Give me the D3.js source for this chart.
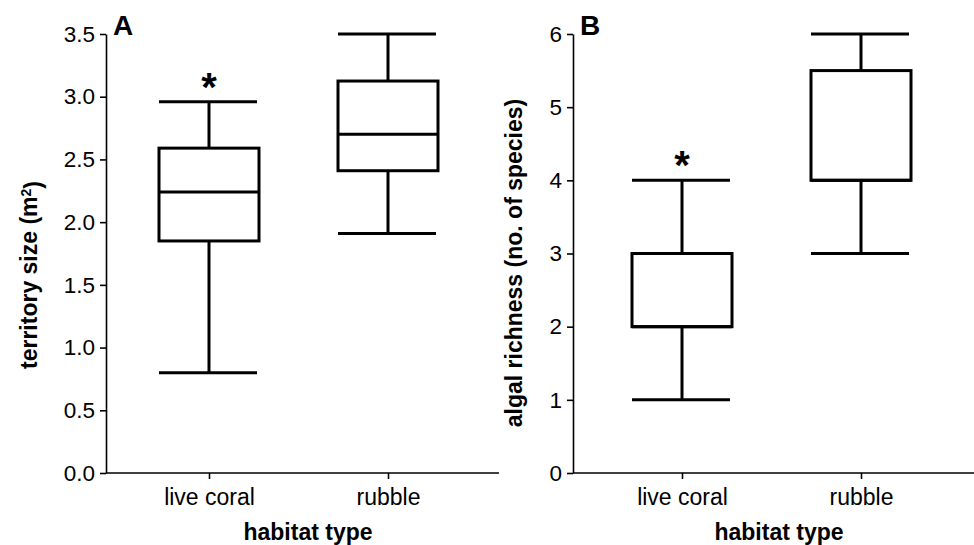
<!DOCTYPE html>
<meta charset="utf-8">
<head>
  <title>Territory size and algal richness</title>
  <style>
  body { margin: 0; background: #fff; }
  svg { font-family: "Liberation Sans", Arial, sans-serif; }
  .tick text { fill: #000; }
  .axis path, .axis line { stroke: #000; stroke-width: 1.6px; }
  .box { fill: #fff; stroke: #000; stroke-width: 3px; }
  .whisker { stroke: #000; stroke-width: 3px; }
  .title { font-weight: bold; font-size: 23px; }
  </style>
</head>
<html>
  <body>
    <svg width="974" height="545"></svg>
  </body>
</html>
<script src="https://d3js.org/d3.v7.min.js"></script>
<script>
// categories
var habitats = ["live coral", "rubble"];

// panel A: territory size (m2) -> [min, q1, median, q3, max]
var territoryStats = [
  [0.80, 1.85, 2.24, 2.59, 2.96],
  [1.91, 2.41, 2.70, 3.125, 3.50]
];
var territoryTicks = [0, 0.5, 1.0, 1.5, 2.0, 2.5, 3.0, 3.5];

// panel B: algal richness (no. of species)
var algalStats = [
  [1, 2, 2, 3, 4],
  [3, 4, 4, 5.5, 6]
];
var algalTicks = [0, 1, 2, 3, 4, 5, 6];

// which groups are marked significant
var signif = ["live coral"];

var svg = d3.select("svg");

function drawPanel(p) {
  var g = svg.append("g").attr("transform", "translate(" + p.left + "," + p.top + ")");

  var y = d3.scaleLinear()
      .domain([0, d3.max(p.ticks)])
      .range([p.height, 0]);

  var x = d3.scalePoint()
      .domain(habitats)
      .range(p.xRange);

  // y axis
  var ya = g.append("g")
      .attr("class", "axis")
      .call(d3.axisLeft(y).tickValues(p.ticks).tickFormat(p.fmt).tickSize(6).tickPadding(5).tickSizeOuter(0));
  ya.selectAll("text").style("font-size", "22.5px");

  // x axis
  var xa = g.append("g")
      .attr("class", "axis")
      .attr("transform", "translate(0," + p.height + ")")
      .call(d3.axisBottom(x).tickSize(6).tickPadding(10).tickSizeOuter(0));
  xa.select(".domain").attr("d", "M0,0H" + p.width);
  xa.selectAll("text").style("font-size", "23px");

  var hw = 50;

  var grp = g.selectAll(".grp")
      .data(p.stats)
    .enter().append("g")
      .attr("class", "grp")
      .attr("transform", function(d, i) { return "translate(" + x(habitats[i]) + ",0)"; });

  // whisker stems
  grp.append("line")
      .attr("class", "whisker")
      .attr("y1", function(d) { return y(d[0]); })
      .attr("y2", function(d) { return y(d[1]); });
  grp.append("line")
      .attr("class", "whisker")
      .attr("y1", function(d) { return y(d[3]); })
      .attr("y2", function(d) { return y(d[4]); });

  // caps
  grp.append("line")
      .attr("class", "whisker")
      .attr("x1", -hw).attr("x2", hw - 2)
      .attr("y1", function(d) { return y(d[0]); })
      .attr("y2", function(d) { return y(d[0]); });
  grp.append("line")
      .attr("class", "whisker")
      .attr("x1", -hw).attr("x2", hw - 2)
      .attr("y1", function(d) { return y(d[4]); })
      .attr("y2", function(d) { return y(d[4]); });

  // box
  grp.append("rect")
      .attr("class", "box")
      .attr("x", -hw)
      .attr("width", 2 * hw)
      .attr("y", function(d) { return y(d[3]); })
      .attr("height", function(d) { return y(d[1]) - y(d[3]); });

  // median
  grp.append("line")
      .attr("class", "whisker")
      .attr("x1", -hw).attr("x2", hw)
      .attr("y1", function(d) { return y(d[2]); })
      .attr("y2", function(d) { return y(d[2]); });

  // asterisks
  grp.filter(function(d, i) { return signif.indexOf(habitats[i]) >= 0; })
    .append("text")
      .attr("text-anchor", "middle")
      .attr("y", function(d) { return y(d[4]) - 1; })
      .style("font-size", "40px")
      .style("font-weight", "bold")
      .text("*");

  // panel letter
  g.append("text")
      .attr("x", 7)
      .attr("y", 1)
      .style("font-size", "28px")
      .style("font-weight", "bold")
      .text(p.letter);

  // axis titles
  g.append("text")
      .attr("class", "title")
      .attr("text-anchor", "middle")
      .attr("x", p.xTitleX)
      .attr("y", 506)
      .text("habitat type");

  g.append("text")
      .attr("class", "title")
      .attr("text-anchor", "middle")
      .attr("transform", "translate(" + p.yTitle[0] + "," + p.yTitle[1] + ") rotate(-90)")
      .text(p.yLabel);
}

drawPanel({
  left: 106, top: 34, width: 393, height: 439,
  ticks: territoryTicks, fmt: d3.format(".1f"), stats: territoryStats,
  xRange: [103, 282], letter: "A", xTitleX: 202,
  yTitle: [-69, 241], yLabel: null
});

drawPanel({
  left: 573, top: 34, width: 401, height: 439,
  ticks: algalTicks, fmt: d3.format("d"), stats: algalStats,
  xRange: [109, 288], letter: "B", xTitleX: 206,
  yTitle: [-51, 229], yLabel: "algal richness (no. of species)"
});

// superscript in the first y title
var t = svg.selectAll(".title").filter(function(d, i) { return i === 1; });
t.text("territory size (m");
t.append("tspan").attr("dy", "-0.45em").style("font-size", "14px").text("2");
t.append("tspan").attr("dy", "0.45em").text(")");
</script>
